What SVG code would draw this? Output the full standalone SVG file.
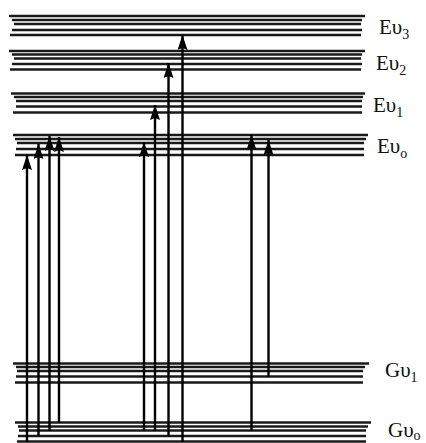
<svg xmlns="http://www.w3.org/2000/svg" width="426" height="443" viewBox="0 0 426 443">
<style>
.lv line{stroke:#1a1a1a;stroke-width:2.4}
.ar line{stroke:#000;stroke-width:2.4}
.lb{font-family:"Liberation Serif","Times New Roman",serif;font-size:21px;fill:#111}
.sb{font-size:14px}
</style>
<defs>
<marker id="ah" viewBox="0 0 15 10" refX="15" refY="5" markerWidth="15" markerHeight="10" markerUnits="userSpaceOnUse" orient="auto">
<path d="M0,0 L15,5 L0,10 L2,5 z" fill="#000"/>
</marker>
</defs>
<rect width="426" height="443" fill="#fff"/>
<g id="Ev3" class="lv">
<line x1="9" y1="16" x2="365" y2="16"/>
<line x1="12" y1="20" x2="362" y2="20"/>
<line x1="14" y1="24" x2="361" y2="24"/>
<line x1="12" y1="30" x2="362" y2="30"/>
<line x1="10" y1="35" x2="361" y2="35"/>
<text class="lb" x="379" y="34">Eυ<tspan class="sb" dy="5">3</tspan></text>
</g>
<g id="Ev2" class="lv">
<line x1="9" y1="51" x2="365" y2="51"/>
<line x1="12" y1="54.5" x2="362" y2="54.5"/>
<line x1="14" y1="58.5" x2="361" y2="58.5"/>
<line x1="12" y1="64" x2="362" y2="64"/>
<line x1="10" y1="69.5" x2="361" y2="69.5"/>
<text class="lb" x="376" y="70">Eυ<tspan class="sb" dy="5">2</tspan></text>
</g>
<g id="Ev1" class="lv">
<line x1="11" y1="93.5" x2="365" y2="93.5"/>
<line x1="14" y1="97" x2="363" y2="97"/>
<line x1="16" y1="101" x2="362" y2="101"/>
<line x1="16" y1="106.5" x2="362" y2="106.5"/>
<line x1="13" y1="112.5" x2="362" y2="112.5"/>
<text class="lb" x="373" y="112">Eυ<tspan class="sb" dy="5">1</tspan></text>
</g>
<g id="Ev0" class="lv">
<line x1="13" y1="135" x2="368" y2="135"/>
<line x1="15" y1="139" x2="366" y2="139"/>
<line x1="17" y1="143" x2="364" y2="143"/>
<line x1="16" y1="149" x2="364" y2="149"/>
<line x1="15" y1="155" x2="364" y2="155"/>
<text class="lb" x="377" y="153">Eυ<tspan class="sb" dy="5">o</tspan></text>
</g>
<g id="Gv1" class="lv">
<line x1="13" y1="363.5" x2="369" y2="363.5"/>
<line x1="16" y1="367" x2="365" y2="367"/>
<line x1="17" y1="371" x2="363" y2="371"/>
<line x1="16" y1="376.5" x2="363" y2="376.5"/>
<line x1="15" y1="382.5" x2="363" y2="382.5"/>
<text class="lb" x="385" y="377">Gυ<tspan class="sb" dy="5">1</tspan></text>
</g>
<g id="Gv0" class="lv">
<line x1="15" y1="422.5" x2="371" y2="422.5"/>
<line x1="18" y1="426.5" x2="368" y2="426.5"/>
<line x1="19" y1="430.5" x2="366" y2="430.5"/>
<line x1="18" y1="436" x2="366" y2="436"/>
<line x1="17" y1="441.5" x2="366" y2="441.5"/>
<text class="lb" x="388" y="437">Gυ<tspan class="sb" dy="3">o</tspan></text>
</g>
<g id="connectors" class="ar">
<line x1="27" y1="442" x2="27" y2="155" marker-end="url(#ah)"/>
<line x1="38.5" y1="436" x2="38.5" y2="144" marker-end="url(#ah)"/>
<line x1="49.5" y1="430.5" x2="49.5" y2="136" marker-end="url(#ah)"/>
<line x1="59" y1="422.5" x2="59" y2="137" marker-end="url(#ah)"/>
<line x1="144" y1="430.5" x2="144" y2="142" marker-end="url(#ah)"/>
<line x1="155" y1="430.5" x2="155" y2="105" marker-end="url(#ah)"/>
<line x1="168.5" y1="436" x2="168.5" y2="63" marker-end="url(#ah)"/>
<line x1="182.5" y1="442" x2="182.5" y2="35" marker-end="url(#ah)"/>
<line x1="251.5" y1="430.5" x2="251.5" y2="135" marker-end="url(#ah)"/>
<line x1="268.5" y1="376.5" x2="268.5" y2="140" marker-end="url(#ah)"/>
</g>
</svg>
